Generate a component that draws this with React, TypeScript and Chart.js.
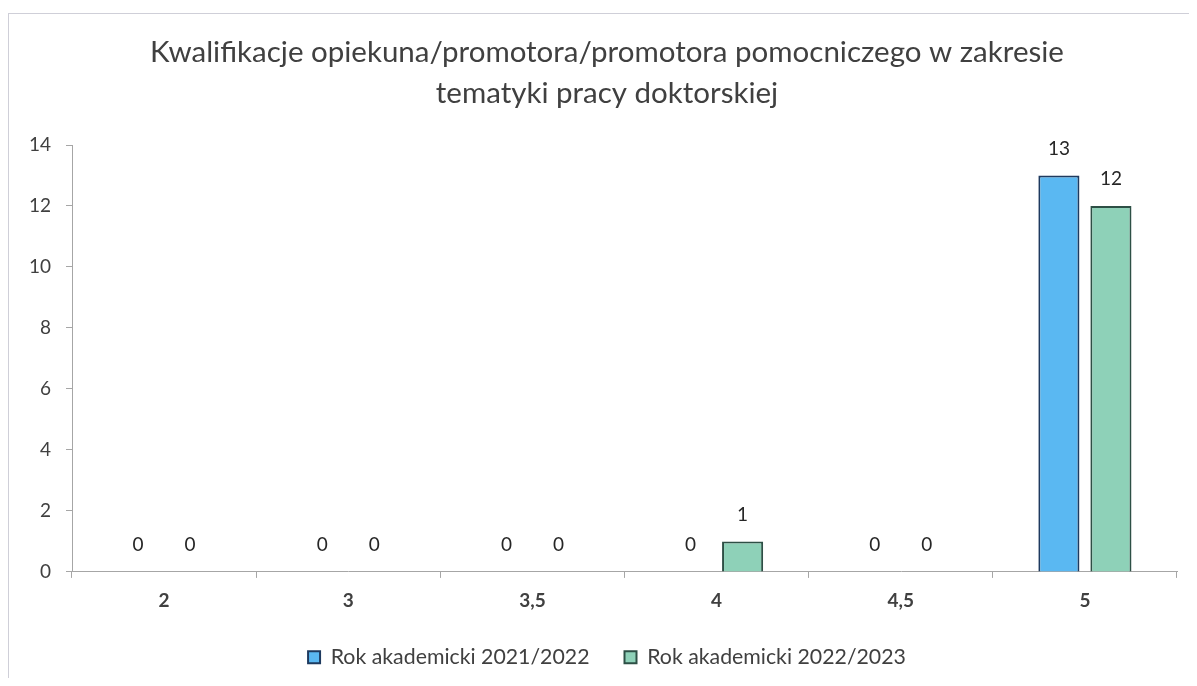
import React, { useEffect, useRef } from "react";
import { Chart, registerables } from "chart.js";

Chart.register(...registerables);

const categories = ["2", "3", "3,5", "4", "4,5", "5"];
const seriesNames = ["Rok akademicki 2021/2022", "Rok akademicki 2022/2023"];
const values2021 = [0, 0, 0, 0, 0, 13];
const values2022 = [0, 0, 0, 1, 0, 12];
const yTicks = [0, 2, 4, 6, 8, 10, 12, 14];
const titleLines = [
  "Kwalifikacje opiekuna/promotora/promotora pomocniczego w zakresie",
  "tematyki pracy doktorskiej",
];

const FONT = "Lato, 'Open Sans', sans-serif";

const dataLabelPlugin = {
  id: "dataLabels",
  afterDatasetsDraw(chart: any) {
    const ctx = chart.ctx;
    ctx.save();
    ctx.font = `19px ${FONT}`;
    ctx.fillStyle = "#262626";
    ctx.textAlign = "center";
    ctx.textBaseline = "middle";
    chart.data.datasets.forEach((ds: any, i: number) => {
      const meta = chart.getDatasetMeta(i);
      meta.data.forEach((bar: any, j: number) => {
        ctx.fillText(String(ds.data[j]), bar.x, bar.y - 27);
      });
    });
    ctx.restore();
  },
};

// let axis tick labels extend past the (narrowed) axis boxes
const noLabelClipPlugin = {
  id: "noLabelClip",
  afterLayout(chart: any) {
    Object.values(chart.scales).forEach((s: any) => {
      s._computeLabelArea = () => undefined;
    });
  },
};

export default function App() {
  const ref = useRef<HTMLCanvasElement | null>(null);
  useEffect(() => {
    if (!ref.current) return;
    const chart = new Chart(ref.current, {
      type: "bar",
      data: {
        labels: categories,
        datasets: [
          {
            label: seriesNames[0],
            data: values2021,
            backgroundColor: "#5ab8f2",
            borderColor: "#1e3a5f",
            borderWidth: 2,
          },
          {
            label: seriesNames[1],
            data: values2022,
            backgroundColor: "#8ed1b8",
            borderColor: "#2d4f45",
            borderWidth: 2,
          },
        ],
      },
      options: {
        animation: false,
        responsive: false,
        maintainAspectRatio: false,
        datasets: {
          bar: { categoryPercentage: 0.565, barPercentage: 0.79 },
        },
        layout: { padding: { left: 28, right: 20, top: 14, bottom: 3 } },
        plugins: {
          title: {
            display: true,
            text: titleLines,
            color: "#404040",
            font: { family: FONT, size: 29.5, weight: "normal", lineHeight: 1.39 },
            padding: { top: 4, bottom: 31 },
          },
          legend: {
            position: "bottom",
            labels: {
              color: "#404040",
              font: { family: FONT, size: 21.3 },
              boxWidth: 12,
              boxHeight: 12,
              padding: 35,
            },
          },
          tooltip: { enabled: false },
        },
        scales: {
          x: {
            afterFit: (axis: any) => {
              axis.height = axis.height - 13;
            },
            grid: {
              drawOnChartArea: false,
              drawTicks: true,
              tickLength: 6,
              color: "#a6a6a6",
            },
            border: { color: "#a6a6a6" },
            ticks: {
              color: "#404040",
              font: { family: FONT, size: 19, weight: "bold" },
              padding: 12,
            },
          },
          y: {
            min: 0,
            max: 14,
            afterBuildTicks: (axis: any) => {
              axis.ticks = yTicks.map((v) => ({ value: v }));
            },
            afterFit: (axis: any) => {
              axis.width = 35;
            },
            grid: {
              drawOnChartArea: false,
              drawTicks: true,
              tickLength: 6,
              color: "#a6a6a6",
            },
            border: { color: "#a6a6a6" },
            ticks: {
              color: "#404040",
              font: { family: FONT, size: 19 },
              padding: 15,
            },
          },
        },
      },
      plugins: [dataLabelPlugin, noLabelClipPlugin],
    });
    return () => chart.destroy();
  }, []);

  return (
    <div
      style={{
        marginTop: 5,
        width: 1189,
        height: 665,
        overflow: "hidden",
        borderTop: "1px solid #cfcfd8",
        borderLeft: "1px solid #cfcfd8",
        boxSizing: "border-box",
        background: "#ffffff",
      }}
    >
      <canvas ref={ref} width={1188} height={667} style={{ display: "block" }} />
    </div>
  );
}
